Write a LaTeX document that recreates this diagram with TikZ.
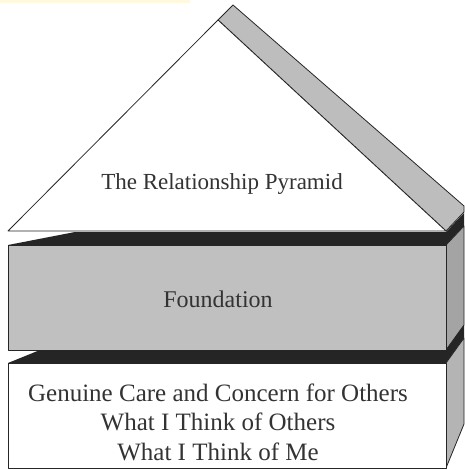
\documentclass[tikz,border=0pt]{standalone}
\usepackage{fontspec}
\setmainfont{Liberation Serif}
\definecolor{facegray}{HTML}{C0C0C0}
\definecolor{roofgray}{HTML}{BDBDBD}
\definecolor{sidegray}{HTML}{A4A4A4}
\definecolor{sidelight}{HTML}{B4B4B4}
\definecolor{topdark}{HTML}{252525}
\definecolor{strip}{HTML}{FFF9DF}

\begin{document}
\begin{tikzpicture}[x=1pt,y=-1pt,
    edge/.style={draw=black!85,line width=0.8pt,line join=round},
    label/.style={text=black!80,align=center}]
    \useasboundingbox[fill=white] (0,0) rectangle (464,470);
    \fill[strip] (0,0) rectangle (190,3);

    % roof
    \draw[edge,fill=roofgray] (218,20) -- (233,5) -- (464,206) -- (464,212) -- (446,231) -- cycle;
    \draw[edge,fill=white] (8,231) -- (218,20) -- (446,231) -- cycle;

    % foundation block
    \fill[topdark] (8,245) -- (75,232) -- (446,232) -- (464,213) -- (464,226) -- (446,245) -- cycle;
    \draw[edge,fill=sidegray] (446,245) -- (464,226) -- (464,325) -- (446,350) -- cycle;
    \draw[edge,fill=facegray] (8,245) rectangle (446,350);

    % base block
    \fill[topdark] (8,363) -- (40,350) -- (446,350) -- (464,325) -- (464,338) -- (446,363) -- cycle;
    \draw[edge,fill=sidelight] (446,363) -- (464,338) -- (464,424) -- (446,468) -- cycle;
    \draw[edge,fill=white] (8,363) rectangle (446,468);

    \node[label,font=\fontsize{23}{29}\selectfont] (pyramid) at (222,184) {The Relationship Pyramid};
    \node[label,font=\fontsize{24}{29}\selectfont] (foundation) at (218,299) {Foundation};
    \node[label,font=\fontsize{25}{29.5}\selectfont] (base) at (218,422) {Genuine Care and Concern for Others\\
        What I Think of Others\\
        What I Think of Me};
\end{tikzpicture}
\end{document}
